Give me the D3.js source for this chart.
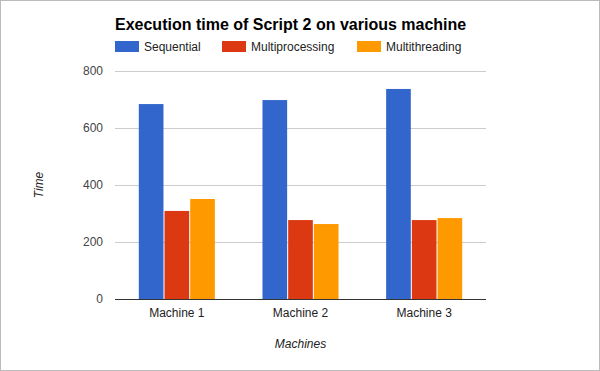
<!DOCTYPE html>
<html><head><meta charset="utf-8">
<script src="https://cdn.jsdelivr.net/npm/d3@7"></script>
<style>body{margin:0;background:#fff}svg{display:block;font-family:Arial,"Liberation Sans",sans-serif}</style>
</head><body>
<svg id="c" width="600" height="371"></svg>
<script>
const title = "Execution time of Script 2 on various machine";
const categories = ["Machine 1", "Machine 2", "Machine 3"];
const seriesNames = ["Sequential", "Multiprocessing", "Multithreading"];
const sequential = [684, 698, 737];
const multiprocessing = [309, 277, 277];
const multithreading = [351, 263, 284];
const colors = ["#3366cc", "#dc3912", "#ff9900"];
const yTicks = [0, 200, 400, 600, 800];
const xTitle = "Machines";
const yTitle = "Time";

const seriesValues = [sequential, multiprocessing, multithreading];
const svg = d3.select("#c");
svg.append("rect").attr("x",0.5).attr("y",0.5).attr("width",599).attr("height",370)
  .attr("fill","#fff").attr("stroke","#bbb");

const L=115, R=486, T=71, B=299;
const y = d3.scaleLinear().domain([0,800]).range([B,T]);
const x0 = d3.scaleBand().domain(categories).range([L,R]).padding(0);
const gw = x0.bandwidth()*0.615;
const x1 = d3.scaleBand().domain(seriesNames).range([0,gw]).paddingInner(0.04);

// grid
svg.append("g").selectAll("line").data(yTicks.filter(d=>d>0)).join("line")
  .attr("x1",L).attr("x2",R).attr("y1",d=>Math.round(y(d))+0.5).attr("y2",d=>Math.round(y(d))+0.5)
  .attr("stroke","#ccc");

// y labels
svg.append("g").selectAll("text").data(yTicks).join("text")
  .attr("x",103).attr("y",d=>y(d)+4).attr("text-anchor","end")
  .attr("font-size",12).attr("fill","#444").text(d=>d);

// bars
const g = svg.append("g");
categories.forEach((c,i)=>{
  seriesNames.forEach((s,j)=>{
    const v = seriesValues[j][i];
    g.append("rect")
      .attr("x", x0(c) + (x0.bandwidth()-gw)/2 + x1(s))
      .attr("width", x1.bandwidth())
      .attr("y", y(v)).attr("height", y(0)-y(v))
      .attr("fill", colors[j]);
  });
});

// baseline
svg.append("line").attr("x1",L).attr("x2",R).attr("y1",B+0.5).attr("y2",B+0.5)
  .attr("stroke","#333").attr("stroke-width",1);

// x labels
svg.append("g").selectAll("text").data(categories).join("text")
  .attr("x",d=>x0(d)+x0.bandwidth()/2).attr("y",317).attr("text-anchor","middle")
  .attr("font-size",12).attr("fill","#222").text(d=>d);

// axis titles
svg.append("text").attr("x",(L+R)/2).attr("y",348).attr("text-anchor","middle")
  .attr("font-size",12).attr("font-style","italic").attr("fill","#222").text(xTitle);
svg.append("text").attr("transform","translate(43,185) rotate(-90)").attr("text-anchor","middle")
  .attr("font-size",12).attr("font-style","italic").attr("fill","#222").text(yTitle);

// title
svg.append("text").attr("x",115).attr("y",30).attr("font-size",16).attr("font-weight","bold")
  .attr("fill","#000").text(title);

// legend
const legX = [115, 222, 357];
seriesNames.forEach((s,j)=>{
  svg.append("rect").attr("x",legX[j]).attr("y",41).attr("width",24).attr("height",11).attr("fill",colors[j]);
  svg.append("text").attr("x",legX[j]+29).attr("y",51).attr("font-size",12).attr("fill","#222").text(s);
});
</script>
</body></html>
